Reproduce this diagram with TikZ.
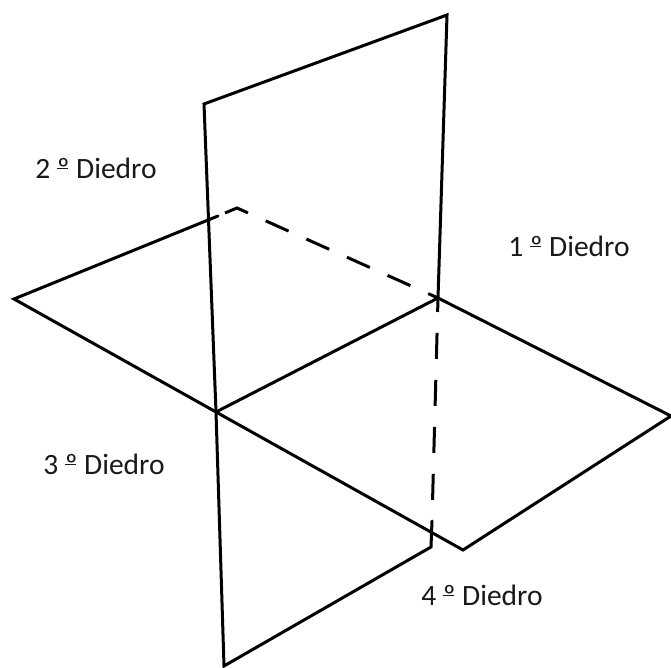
\documentclass[tikz,border=0pt]{standalone}
\usepackage{fontspec}
\setmainfont{Carlito}
\newcommand{\ordbar}{\leavevmode\rlap{\rule[0.30em]{0.38em}{0.055em}}º}
\tikzset{plane/.style={line width=3pt,line join=miter,line cap=round},
hiddenA/.style={line width=3pt,line join=miter,dash pattern=on 25pt off 19.5pt},
hiddenB/.style={line width=3pt,dash pattern=on 26pt off 21pt,dash phase=12pt},
lab/.style={font=\fontsize{29.5}{32}\selectfont,text=black!90,inner sep=0pt}}
\begin{document}
\begin{tikzpicture}[x=1pt,y=1pt]
\useasboundingbox (0,0) rectangle (671,668);
\coordinate (A) at (204,564);
\coordinate (B) at (447,653);
\coordinate (C) at (438,370);
\coordinate (D) at (216,256);
\coordinate (E) at (224,2);
\coordinate (F) at (431,121);
\coordinate (G) at (432,147);
\coordinate (H) at (14,369);
\coordinate (I) at (237,460);
\coordinate (J) at (218,452);
\coordinate (J2) at (225,455);
\coordinate (K) at (671,252);
\coordinate (L) at (463,118);
\draw[plane] (C) -- (B) -- (A) -- (D) -- (E) -- (F) -- (G);
\draw[plane] (J) -- (H) -- (D) -- (L) -- (K) -- (C) -- (D);
\draw[hiddenA] (J2) -- (I) -- (C);
\draw[hiddenB] (C) -- (G);
\node[lab] (d2) at (96,500) {2 \ordbar{} Diedro};
\node[lab] (d1) at (569,422) {1 \ordbar{} Diedro};
\node[lab] (d3) at (104,204) {3 \ordbar{} Diedro};
\node[lab] (d4) at (482,73) {4 \ordbar{} Diedro};
\end{tikzpicture}
\end{document}
